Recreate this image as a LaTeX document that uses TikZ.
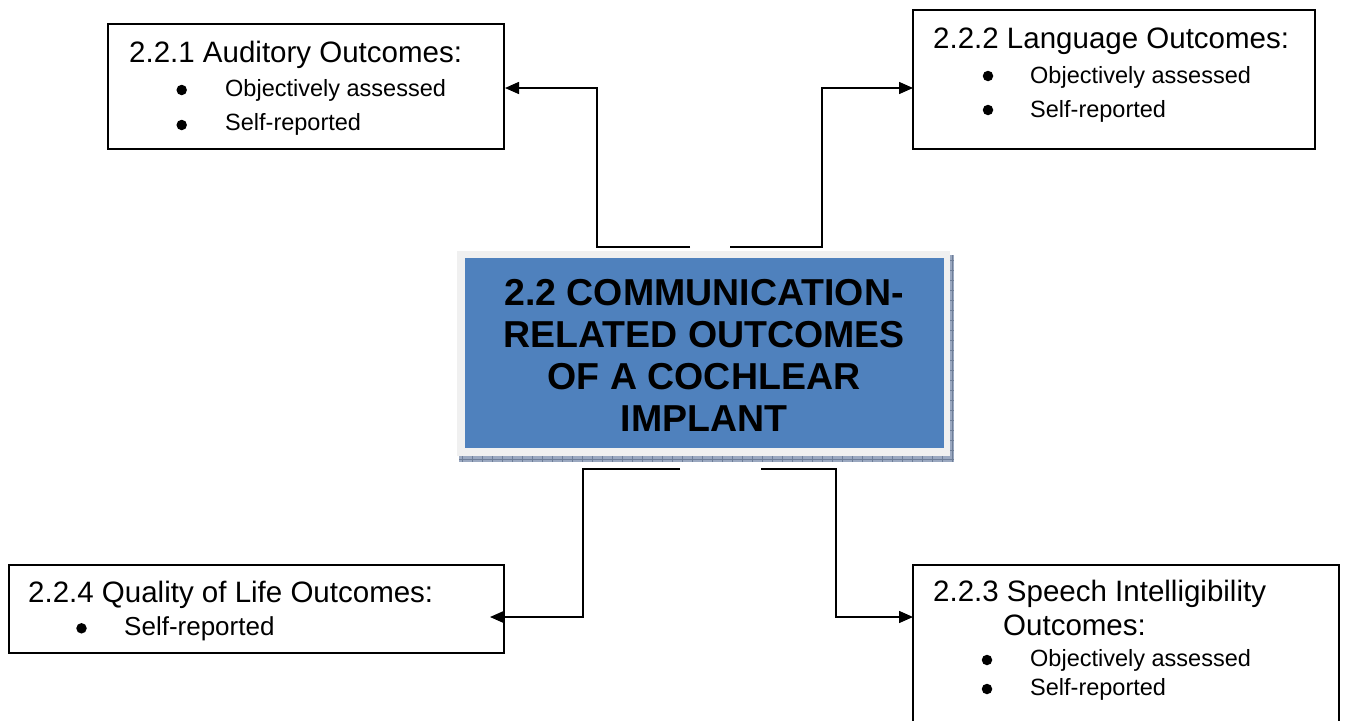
\documentclass[tikz,border=0pt]{standalone}
\usepackage{fontspec}
\setmainfont{Liberation Sans}
\usetikzlibrary{arrows.meta}
\definecolor{ciblue}{HTML}{4F81BD}
\definecolor{ciframe}{HTML}{F0F0F0}
\definecolor{cishadow}{HTML}{9AA8C0}
\definecolor{citick}{HTML}{6E7E98}
\begin{document}
\begin{tikzpicture}[x=1pt,y=-1pt,
  outbox/.style={draw=black,line width=1.5pt,fill=white,inner sep=0pt},
  head/.style={anchor=base west,inner sep=0pt,font=\fontsize{29.5}{34}\selectfont},
  item/.style={anchor=base west,inner sep=0pt,font=\fontsize{23.5}{28}\selectfont},
  itembig/.style={anchor=base west,inner sep=0pt,font=\fontsize{26}{30}\selectfont},
  dot/.style={circle,fill=black,inner sep=0pt,minimum size=10.5pt},
  conn/.style={line width=1.5pt,-{Triangle[length=14pt,width=12pt]}}
]
\path[use as bounding box,clip] (0,0) rectangle (1346,720);

% outer boxes
\node[outbox,minimum width=396pt,minimum height=125pt] (aud) at (306,86.5) {};
\node[outbox,minimum width=402pt,minimum height=139pt] (lang) at (1114,79.5) {};
\node[outbox,minimum width=426pt,minimum height=175pt] (speech) at (1126,652.5) {};
\node[outbox,minimum width=495pt,minimum height=88pt] (qol) at (256.5,609) {};

% central box with shadow and frame
\fill[cishadow] (459,456) rectangle (954,462);
\fill[cishadow] (950,255) rectangle (954,462);
\draw[citick,line width=0.5pt] (459,459) -- (954,459);
\draw[citick,line width=0.5pt] (952,255) -- (952,462);
\foreach \x in {462,472,...,952} \draw[citick,line width=0.6pt] (\x,456) -- (\x,462);
\foreach \y in {260,270,...,455} \draw[citick,line width=0.6pt] (950,\y) -- (954,\y);
\node[fill=ciframe,inner sep=0pt,minimum width=493pt,minimum height=205pt] (frame) at (703.5,353.5) {};
\node[fill=ciblue,inner sep=0pt,minimum width=479pt,minimum height=190pt] (ctr) at (704.5,353) {};
\node[align=center,inner sep=0pt,font=\bfseries\fontsize{37.5}{42}\selectfont] (ctrtext) at (704,355.5)
  {2.2 COMMUNICATION-\\RELATED OUTCOMES\\OF A COCHLEAR\\IMPLANT};

% connectors
\coordinate (tl) at (690,247);
\coordinate (tr) at (730,247);
\coordinate (bl) at (680,469);
\coordinate (br) at (761,469);
\coordinate (audin) at (505,88);
\coordinate (langin) at (913,88);
\coordinate (qolin) at (490,617);
\coordinate (spin) at (913,617);
\draw[conn] (tl) -- (597,247) |- (audin);
\draw[conn] (tr) -- (822,247) |- (langin);
\draw[conn] (bl) -- (583,469) |- (qolin);
\draw[conn] (br) -- (836,469) |- (spin);

% texts: auditory
\node[head] (audh) at (129,62.3) {2.2.1 Auditory Outcomes:};
\node[dot] (auddot1) at (181.7,90) {};
\node[dot] (auddot2) at (181.7,125) {};
\node[item] (audi1) at (225,96.3) {Objectively assessed};
\node[item] (audi2) at (225,130.5) {Self-reported};

% language
\node[head] (langh) at (933,48.3) {2.2.2 Language Outcomes:};
\node[dot] (langdot1) at (988,76) {};
\node[dot] (langdot2) at (988,110) {};
\node[item] (langi1) at (1030,83.3) {Objectively assessed};
\node[item] (langi2) at (1030,117.5) {Self-reported};

% speech
\node[head] (sph) at (933,601.7) {2.2.3 Speech Intelligibility};
\node[head] (sph2) at (1003,635) {Outcomes:};
\node[dot] (spdot1) at (987,660) {};
\node[dot] (spdot2) at (987,689) {};
\node[item] (spi1) at (1030,666.7) {Objectively assessed};
\node[item] (spi2) at (1030,695) {Self-reported};

% quality of life
\node[head] (qolh) at (28,602.3) {2.2.4 Quality of Life Outcomes:};
\node[dot] (qoldot) at (81.5,628.3) {};
\node[itembig] (qoli) at (124,635) {Self-reported};
\end{tikzpicture}
\end{document}
